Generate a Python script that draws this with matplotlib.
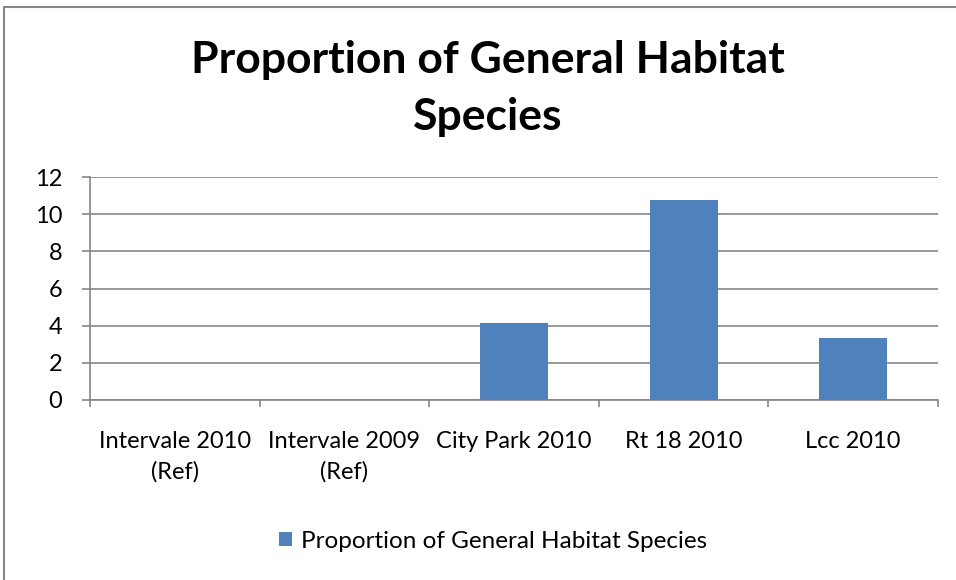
import matplotlib
matplotlib.use("Agg")
import matplotlib.pyplot as plt
from matplotlib.patches import Rectangle
import numpy as np

categories = ["Intervale 2010\n(Ref)", "Intervale 2009\n(Ref)", "City Park 2010", "Rt 18 2010", "Lcc 2010"]
values = [0, 0, 4.17, 10.74, 3.33]
series_name = "Proportion of General Habitat Species"
title = "Proportion of General Habitat\nSpecies"
yticks = [0, 2, 4, 6, 8, 10, 12]

FONT = ['Lato', 'DejaVu Sans']
plt.rcParams['font.family'] = FONT
grey = "#868686"
bar_color = "#4F81BD"
W, H = 956, 580

fig = plt.figure(figsize=(W/100, H/100), dpi=100)
renderer = fig.canvas.get_renderer()

def fit_size(text, target_px, weight='normal', base=20.0):
    t = fig.text(0, 0, text, fontsize=base, fontweight=weight)
    w = t.get_window_extent(renderer).width
    t.remove()
    return base * target_px / w

title_lines = title.split("\n")
title_fs = fit_size(title_lines[0], 593, 'bold')
label_fs = fit_size("Intervale 2010", 153)
legend_fs = fit_size(series_name, 407)

ax = fig.add_axes([90/W, 1-400/H, (938-90)/W, (400-177)/H])
x = np.arange(len(categories))
ax.bar(x, values, width=0.4, color=bar_color, zorder=3, label=series_name)
ax.set_xlim(-0.5, len(categories)-0.5)
ax.set_ylim(0, 12)
ax.set_yticks(yticks)
ax.set_yticklabels([str(t) for t in yticks], fontsize=label_fs)
ax.yaxis.grid(True, color=grey, linewidth=1.2, zorder=0)
ax.set_axisbelow(True)
for s in ["top", "right"]:
    ax.spines[s].set_visible(False)
for s in ["left", "bottom"]:
    ax.spines[s].set_color(grey)
    ax.spines[s].set_linewidth(1.2)
ax.tick_params(axis='y', length=6, width=1.2, color=grey, pad=14, labelcolor='black')
ax.set_xticks(np.arange(-0.5, len(categories), 1.0))
ax.set_xticklabels([])
ax.tick_params(axis='x', which='major', length=5, width=1.2, color=grey)
ax.set_xticks(x, minor=True)
ax.set_xticklabels(categories, minor=True, fontsize=label_fs, linespacing=1.55)
ax.tick_params(axis='x', which='minor', length=0, pad=22)

# title as two baseline-aligned lines
fig.text(488/W, 1-73/H, title_lines[0], ha='center', va='baseline', fontsize=title_fs, fontweight='bold')
fig.text(488/W, 1-130/H, title_lines[1], ha='center', va='baseline', fontsize=title_fs, fontweight='bold')

fig.legend(loc='center', bbox_to_anchor=(493/W, 1-541/H), frameon=False,
           fontsize=legend_fs, handlelength=0.55, handleheight=0.55, handletextpad=0.35,
           borderpad=0, borderaxespad=0)

fig.patches.append(Rectangle((4/W, -0.1), 1.1, 1.1 - 7/H, transform=fig.transFigure,
                             fill=False, edgecolor=grey, linewidth=1.5))

fig.savefig("out.png", dpi=100)
